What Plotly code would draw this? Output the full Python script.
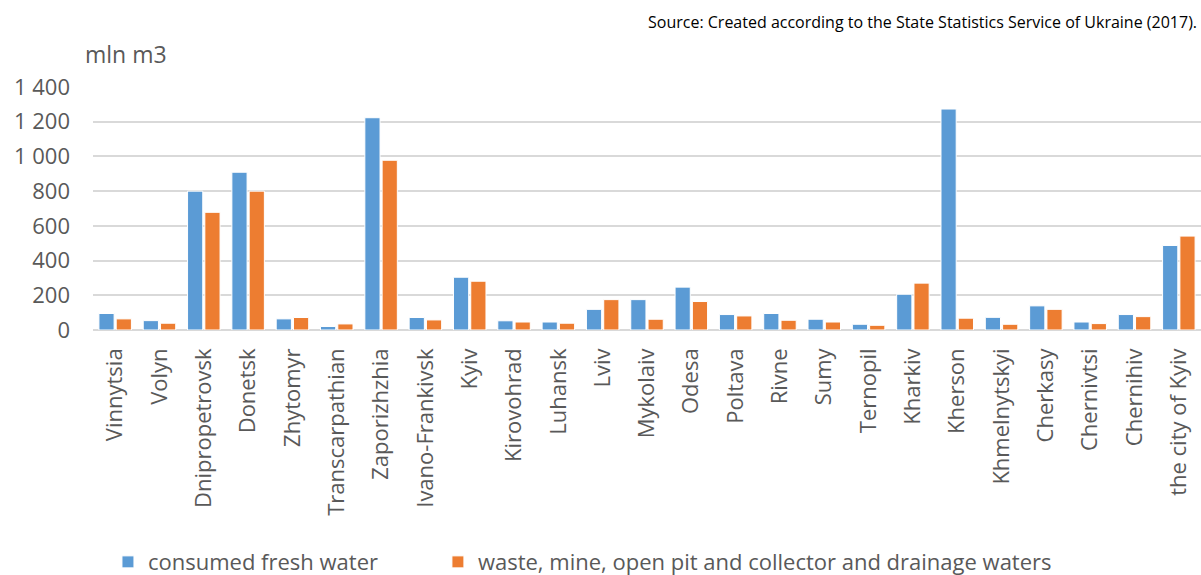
import plotly.graph_objects as go

regions = ["Vinnytsia", "Volyn", "Dnipropetrovsk", "Donetsk", "Zhytomyr", "Transcarpathian",
           "Zaporizhzhia", "Ivano-Frankivsk", "Kyiv", "Kirovohrad", "Luhansk", "Lviv",
           "Mykolaiv", "Odesa", "Poltava", "Rivne", "Sumy", "Ternopil", "Kharkiv",
           "Kherson", "Khmelnytskyi", "Cherkasy", "Chernivtsi", "Chernihiv", "the city of Kyiv"]
fresh_water = [95, 54, 800, 909, 64, 20, 1223, 72, 304, 53, 46, 119, 175, 247, 89, 95, 62,
               33, 206, 1273, 73, 139, 46, 89, 487]
waste_water = [64, 39, 678, 800, 72, 35, 978, 58, 281, 46, 39, 175, 62, 164, 81, 56, 46,
               27, 270, 68, 33, 119, 37, 77, 541]
series_names = ["consumed fresh water",
                "waste, mine, open pit and collector and drainage waters"]
y_ticks = [0, 200, 400, 600, 800, 1000, 1200, 1400]

FONT = "Open Sans"
GRAY = "#595959"

fig = go.Figure()
fig.add_trace(go.Bar(x=regions, y=fresh_water, name=series_names[0], legend="legend",
                     showlegend=True,
                     marker=dict(color="#5b9bd5", line=dict(color="white", width=1))))
fig.add_trace(go.Bar(x=regions, y=waste_water, name=series_names[1], legend="legend2",
                     showlegend=True,
                     marker=dict(color="#ed7d31", line=dict(color="white", width=1))))

legend_common = dict(orientation="h", yanchor="middle", y=-0.955, xanchor="left",
                     font=dict(size=22, color=GRAY, family=FONT), itemwidth=30,
                     bgcolor="rgba(0,0,0,0)", visible=True)

fig.update_layout(
    width=1201, height=575,
    margin=dict(l=93, r=0, t=87, b=245, autoexpand=False),
    paper_bgcolor="white", plot_bgcolor="white",
    barmode="group", bargap=0.22, bargroupgap=0.12,
    separators=". ",
    showlegend=True,
    font=dict(family=FONT, color=GRAY, size=20),
    legend=dict(x=0.0135, **legend_common),
    legend2=dict(x=0.3113, **legend_common),
    xaxis=dict(tickangle=-90, showgrid=False, showline=False, ticks="", automargin=False,
               tickfont=dict(size=22, color=GRAY), ticklabelstandoff=13),
    yaxis=dict(range=[0, 1400], tickvals=y_ticks, tickformat=",", showline=False,
               automargin=False,
               gridcolor="#d9d9d9", gridwidth=1.5, zeroline=True, zerolinecolor="#d9d9d9",
               zerolinewidth=1.5, ticks="", tickfont=dict(size=22, color=GRAY),
               ticklabelstandoff=22),
    annotations=[
        dict(text="mln m3", xref="paper", yref="paper", x=-0.009, y=1.136,
             xanchor="left", yanchor="middle", showarrow=False,
             font=dict(size=23, color=GRAY)),
        dict(text="Source: Created according to the State Statistics Service of Ukraine (2017).",
             xref="paper", yref="paper", x=0.998, y=1.267, xanchor="right", yanchor="middle",
             showarrow=False, font=dict(size=16, color="#000000", family=FONT)),
    ],
)

fig.write_html("out.html", config={"displayModeBar": False},
               post_script="document.body.style.margin='0';document.body.style.overflow='hidden';")
